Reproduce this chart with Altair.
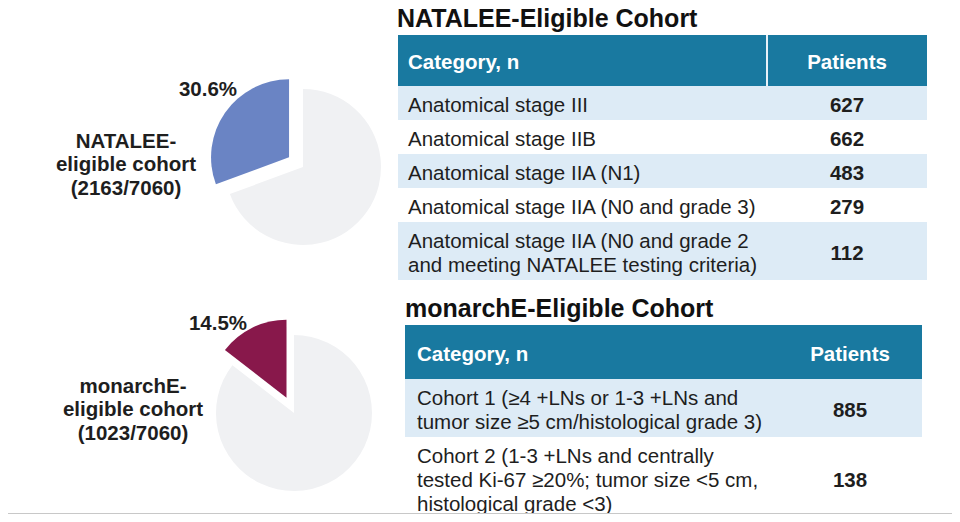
import math
import altair as alt
import pandas as pd

# ---------------- data ----------------
total_patients = 7060
cohort_label_lines = [["NATALEE-", "eligible cohort"], ["monarchE-", "eligible cohort"]]
cohort_counts = [2163, 1023]
cohort_colors = ["#6A84C4", "#88184B"]
rest_color = "#F0F1F3"

natalee_title = "NATALEE-Eligible Cohort"
natalee_categories = [
    "Anatomical stage III",
    "Anatomical stage IIB",
    "Anatomical stage IIA (N1)",
    "Anatomical stage IIA (N0 and grade 3)",
    "Anatomical stage IIA (N0 and grade 2\nand meeting NATALEE testing criteria)",
]
natalee_patients = [627, 662, 483, 279, 112]

monarche_title = "monarchE-Eligible Cohort"
monarche_categories = [
    "Cohort 1 (\u22654 +LNs or 1-3 +LNs and\ntumor size \u22655 cm/histological grade 3)",
    "Cohort 2 (1-3 +LNs and centrally\ntested Ki-67 \u226520%; tumor size <5 cm,\nhistological grade <3)",
]
monarche_patients = [885, 138]

header_labels = ["Category, n", "Patients"]

# ---------------- layout (pixel canvas) ----------------
FONT = "Liberation Sans"
TEXT = "#1E1E1E"
TEAL = "#1979A0"
LIGHT = "#DDEBF6"
BODY_SIZE = 20.5
LINE_H = 24
PIE_CENTERS = [(303, 167), (294, 413)]
PIE_R = 78
EXPLODE = 17
PCT_POS = [(208, 88), (218, 322)]
NAME_POS = [(126, 163), (133, 408)]
NAME_LH = 23.5

TABLES = [
    dict(title=natalee_title, cats=natalee_categories, pats=natalee_patients,
         x0=398, x1=927, title_x=397, title_y=27, head_top=35, head_h=51,
         text_x=408, num_x=847, divider=767),
    dict(title=monarche_title, cats=monarche_categories, pats=monarche_patients,
         x0=405, x1=922, title_x=405, title_y=317, head_top=325, head_h=54,
         text_x=417, num_x=850, divider=None),
]

# page canvas: chart occupies page pixels 8..952 x 8..514
X = alt.Scale(domain=[8, 952], nice=False, zero=False)
Y = alt.Scale(domain=[8, 514], reverse=True, nice=False, zero=False)
THETA = alt.Scale(domain=[0, 100], range=[0, 2 * math.pi])

def xq(f):
    return alt.X(f"{f}:Q", scale=X, axis=None)

def yq(f):
    return alt.Y(f"{f}:Q", scale=Y, axis=None)

def first_line(center, text, lh):
    n = text.count("\n") + 1
    return center - (n - 1) * lh / 2

# ---------------- pies ----------------
arc_rows, pct_rows, name_rows = [], [], []
for i, cnt in enumerate(cohort_counts):
    pct = cnt / total_patients * 100
    cx, cy = PIE_CENTERS[i]
    start = 100 - pct
    arc_rows.append(dict(cx=cx, cy=cy, t0=0, t1=start, color=rest_color))
    mid = (start + 100) / 2 / 100 * 2 * math.pi
    arc_rows.append(dict(cx=cx + EXPLODE * math.sin(mid), cy=cy - EXPLODE * math.cos(mid),
                         t0=start, t1=100, color=cohort_colors[i]))
    pct_rows.append(dict(x=PCT_POS[i][0], y=PCT_POS[i][1], text=f"{pct:.1f}%"))
    label = "\n".join(cohort_label_lines[i] + [f"({cnt}/{total_patients})"])
    name_rows.append(dict(x=NAME_POS[i][0], y=first_line(NAME_POS[i][1], label, NAME_LH), text=label))

arcs = alt.Chart(pd.DataFrame(arc_rows)).mark_arc(outerRadius=PIE_R).encode(
    x=xq("cx"), y=yq("cy"),
    theta=alt.Theta("t0:Q", scale=THETA, stack=None), theta2="t1:Q",
    color=alt.Color("color:N", scale=None),
)
pct_text = alt.Chart(pd.DataFrame(pct_rows)).mark_text(
    font=FONT, fontSize=BODY_SIZE, fontWeight="bold", color=TEXT, align="center",
    baseline="middle", dy=1.5
).encode(x=xq("x"), y=yq("y"), text="text:N")
name_text = alt.Chart(pd.DataFrame(name_rows)).mark_text(
    font=FONT, fontSize=BODY_SIZE, fontWeight="bold", color=TEXT, align="center", baseline="middle",
    lineBreak="\n", lineHeight=NAME_LH, dy=2
).encode(x=xq("x"), y=yq("y"), text="text:N")

# ---------------- tables ----------------
rect_rows, cat_rows, num_rows, head_l, head_c, title_rows, div_rows = [], [], [], [], [], [], []
for t in TABLES:
    title_rows.append(dict(x=t["title_x"], y=t["title_y"], text=t["title"]))
    ht, hb = t["head_top"], t["head_top"] + t["head_h"]
    rect_rows.append(dict(x=t["x0"], x2=t["x1"], y=ht, y2=hb, color=TEAL))
    head_l.append(dict(x=t["text_x"], y=(ht + hb) / 2, text=header_labels[0]))
    head_c.append(dict(x=t["num_x"], y=(ht + hb) / 2, text=header_labels[1]))
    if t["divider"]:
        div_rows.append(dict(x=t["divider"], y=ht, y2=hb))
    top = hb
    for j, (cat, n) in enumerate(zip(t["cats"], t["pats"])):
        nlines = cat.count("\n") + 1
        h = 10 + LINE_H * nlines
        rect_rows.append(dict(x=t["x0"], x2=t["x1"], y=top, y2=top + h,
                              color=LIGHT if j % 2 == 0 else "#FFFFFF"))
        cat_rows.append(dict(x=t["text_x"], y=first_line(top + h / 2, cat, LINE_H), text=cat))
        num_rows.append(dict(x=t["num_x"], y=top + h / 2, text=str(n)))
        top += h

rects = alt.Chart(pd.DataFrame(rect_rows)).mark_rect().encode(
    x=xq("x"), x2="x2:Q", y=yq("y"), y2="y2:Q", color=alt.Color("color:N", scale=None)
)
dividers = alt.Chart(pd.DataFrame(div_rows)).mark_rule(color="#E8F1F8", strokeWidth=2).encode(
    x=xq("x"), y=yq("y"), y2="y2:Q"
)
titles = alt.Chart(pd.DataFrame(title_rows)).mark_text(
    font=FONT, fontSize=25, fontWeight="bold", color="#111111", align="left", baseline="alphabetic"
).encode(x=xq("x"), y=yq("y"), text="text:N")
head_left = alt.Chart(pd.DataFrame(head_l)).mark_text(
    font=FONT, fontSize=BODY_SIZE, fontWeight="bold", color="#FFFFFF", align="left",
    baseline="middle", dy=2.5
).encode(x=xq("x"), y=yq("y"), text="text:N")
head_center = alt.Chart(pd.DataFrame(head_c)).mark_text(
    font=FONT, fontSize=BODY_SIZE, fontWeight="bold", color="#FFFFFF", align="center",
    baseline="middle", dy=2.5
).encode(x=xq("x"), y=yq("y"), text="text:N")
cat_text = alt.Chart(pd.DataFrame(cat_rows)).mark_text(
    font=FONT, fontSize=BODY_SIZE, color=TEXT, align="left", baseline="middle",
    lineBreak="\n", lineHeight=LINE_H, dy=3
).encode(x=xq("x"), y=yq("y"), text="text:N")
num_text = alt.Chart(pd.DataFrame(num_rows)).mark_text(
    font=FONT, fontSize=BODY_SIZE, fontWeight="bold", color=TEXT, align="center",
    baseline="middle", dy=3
).encode(x=xq("x"), y=yq("y"), text="text:N")

# thin grey frame line along the very bottom edge
bottom_rule = alt.Chart(pd.DataFrame({"y": [514]})).mark_rule(color="#C8C8C8", strokeWidth=2).encode(
    x=alt.value(0), x2=alt.value(944), y=yq("y")
)

chart = alt.layer(
    arcs, pct_text, name_text, rects, dividers, titles, head_left, head_center,
    cat_text, num_text, bottom_rule
).properties(
    width=944, height=506, padding=0, autosize=alt.AutoSizeParams(type="none"),
    background="#FFFFFF"
).configure_view(stroke=None)

chart.save("out.html", embed_options={"renderer": "svg", "actions": False})
